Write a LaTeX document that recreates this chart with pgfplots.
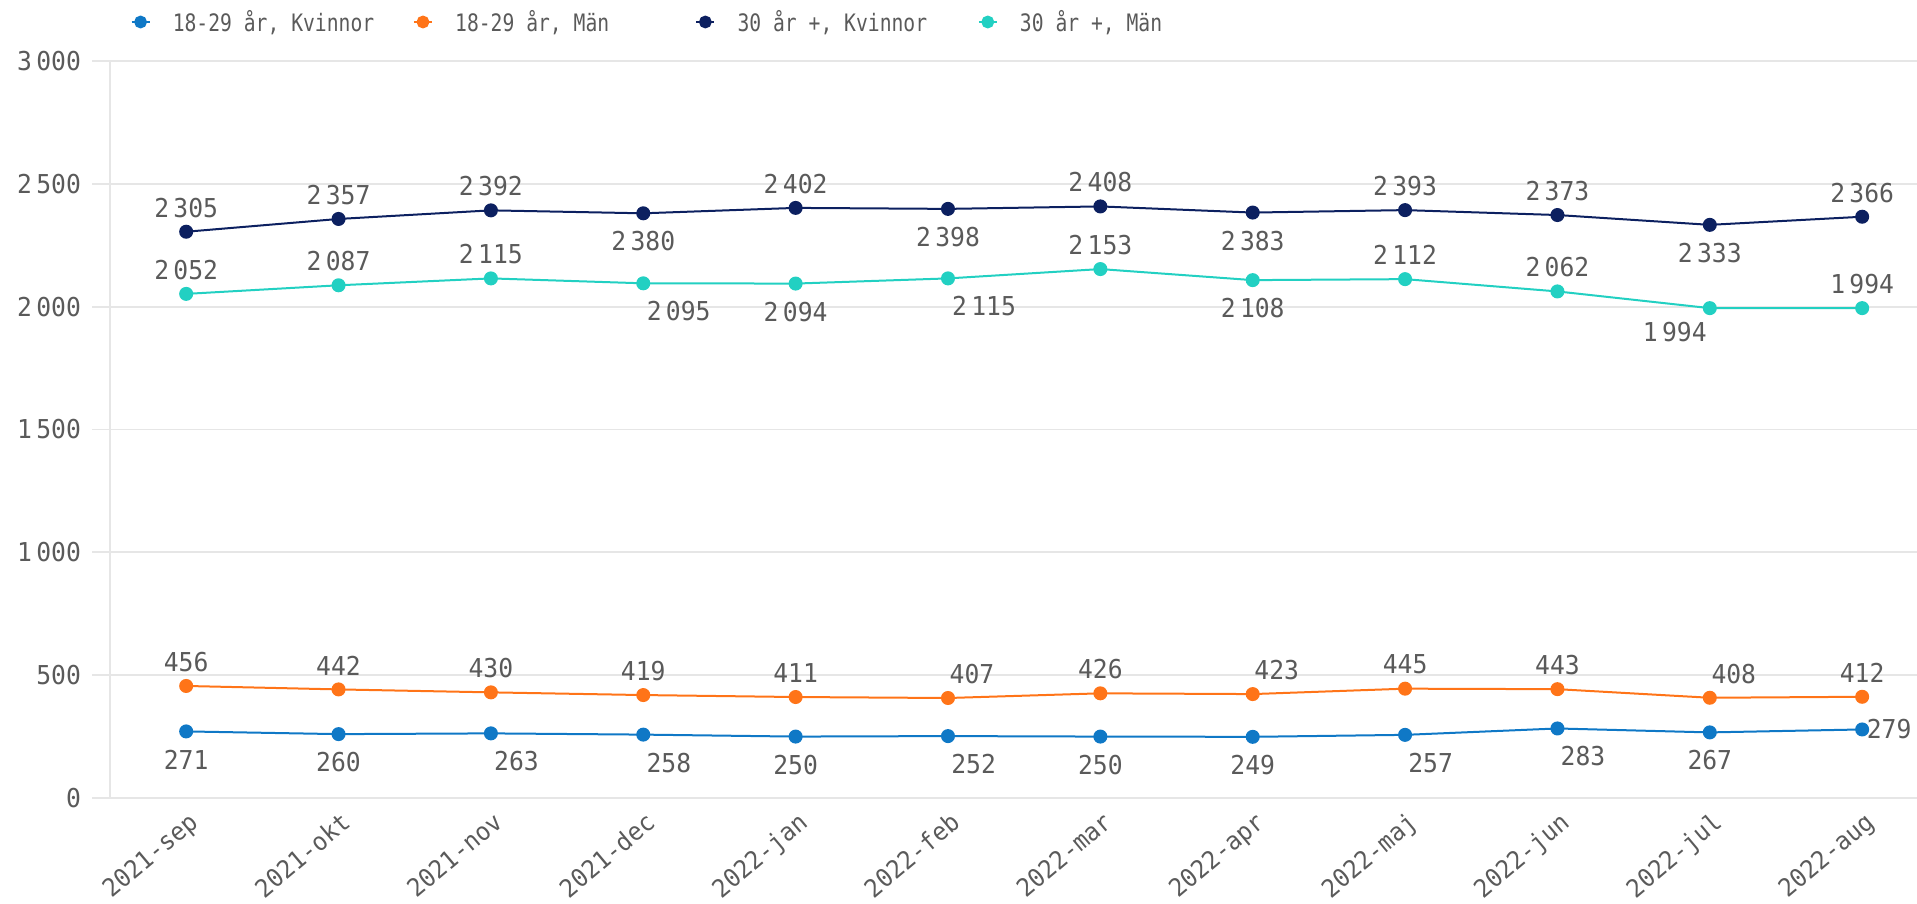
\documentclass[border=0pt]{standalone}
\usepackage{fontspec}
\setmainfont{DejaVu Sans Mono}[FakeStretch=0.95]
\newfontfamily\legfont{DejaVu Sans Mono}[FakeStretch=0.82]
\usepackage{pgfplots}
\usepackage{pgfplotstable}
\pgfplotsset{compat=1.18}
\pgfkeys{/pgf/number format/.cd, 1000 sep={\,}, assume math mode=true}
\definecolor{cBlue}{HTML}{0F78C6}
\definecolor{cOrange}{HTML}{FF7418}
\definecolor{cNavy}{HTML}{0C2060}
\definecolor{cTurq}{HTML}{22D0C2}
\definecolor{gridgray}{HTML}{E6E6E6}
\definecolor{txtgray}{HTML}{5A5A5A}

\pgfplotstableread{
x y dx dy
0 2305 0 12
1 2357 0 12
2 2392 0 12
3 2380 0 -14
4 2402 0 12
5 2398 0 -14
6 2408 0 12
7 2383 0 -14
8 2393 0 12
9 2373 0 12
10 2333 0 -14
11 2366 0 12
}\navy
\pgfplotstableread{
x y dx dy
0 2052 0 12
1 2087 0 12
2 2115 0 12
3 2095 17.7 -14
4 2094 0 -14
5 2115 18 -14
6 2153 0 12
7 2108 0 -14
8 2112 0 12
9 2062 0 12
10 1994 -17.5 -12
11 1994 0 12
}\turq
\pgfplotstableread{
x y dx dy
0 456 0 12
1 442 0 12
2 430 0 12
3 419 0 12
4 411 0 12
5 407 12 12
6 426 0 12
7 423 12 12
8 445 0 12
9 443 0 12
10 408 12 12
11 412 0 12
}\orange
\pgfplotstableread{
x y dx dy
0 271 0 -14
1 260 0 -14
2 263 12.8 -14
3 258 12.8 -14
4 250 0 -14
5 252 12.8 -14
6 250 0 -14
7 249 0 -14
8 257 12.8 -14
9 283 12.8 -14
10 267 0 -14
11 279 13.5 0
}\blue

\begin{document}%
\begin{tikzpicture}
\begin{axis}[
  scale only axis, width=903.5pt, height=368.5pt,
  xmin=-0.5, xmax=11.36, ymin=0, ymax=3000,
  clip=false,
  axis x line*=bottom, axis y line*=left,
  x axis line style={draw=none},
  y axis line style={draw=gridgray, line width=0.9pt},
  ymajorgrids, grid style={draw=gridgray, line width=0.9pt},
  ytick={0,500,...,3000},
  xtick={0,...,11},
  xticklabels={2021-sep,2021-okt,2021-nov,2021-dec,2022-jan,2022-feb,2022-mar,2022-apr,2022-maj,2022-jun,2022-jul,2022-aug},
  tick align=outside, major tick length=9pt,
  ytick style={draw=gridgray, line width=0.9pt},
  xtick style={draw=none},
  tick label style={font=\fontsize{13}{15}\selectfont, text=txtgray},
  yticklabel style={anchor=east, xshift=-2pt},
  xticklabel style={font=\fontsize{12.5}{15}\selectfont, anchor=north east, xshift=1pt, yshift=7.5pt, rotate=40},
  legend columns=4,
  legend style={draw=none, fill=none, at={(0.01107,1.0529)}, anchor=west,
    font=\legfont\fontsize{12}{14}\selectfont, text=txtgray,
    inner sep=0pt, column sep=0pt,
    /tikz/every odd column/.style={column sep=9pt},
    /tikz/every even column/.style={column sep=0pt}},
  legend image code/.code={\draw[mark repeat=2,mark phase=2,#1, line width=1.2pt, mark size=2.6pt] plot coordinates {(0pt,0pt) (4.5pt,0pt) (9pt,0pt)};},
  nodes near coords,
  every node near coord/.append style={font=\fontsize{13}{15}\selectfont, text=txtgray, anchor=center, xshift=\dx pt, yshift=\dy pt},
  visualization depends on={\thisrow{dx} \as \dx},
  visualization depends on={\thisrow{dy} \as \dy},
  every axis plot/.append style={line width=1pt, mark=*, mark size=3pt},
]
\coordinate (sw) at (rel axis cs:0,0);
\coordinate (ne) at (rel axis cs:1,1);
\addplot[color=cBlue, mark options={solid, fill=cBlue}] table[x=x, y=y] {\blue};
\addlegendentry{\makebox[118pt][l]{18-29 år, Kvinnor}}
\addplot[color=cOrange, mark options={solid, fill=cOrange}] table[x=x, y=y] {\orange};
\addlegendentry{\makebox[118pt][l]{18-29 år, Män}}
\addplot[color=cNavy, mark options={solid, fill=cNavy}] table[x=x, y=y] {\navy};
\addlegendentry{\makebox[118pt][l]{30 år +, Kvinnor}}
\addplot[color=cTurq, mark options={solid, fill=cTurq}] table[x=x, y=y] {\turq};
\addlegendentry{\makebox[118pt][l]{30 år +, Män}}
\end{axis}
\pgfresetboundingbox
\path ([shift={(-55pt,-53pt)}]sw) rectangle ([shift={(0pt,30.5pt)}]ne);
\end{tikzpicture}%
\end{document}
